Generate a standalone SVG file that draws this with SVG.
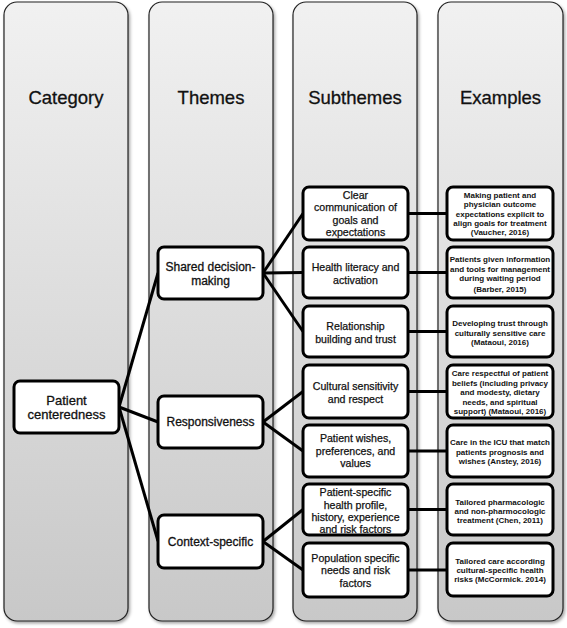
<svg xmlns="http://www.w3.org/2000/svg" width="567" height="628" viewBox="0 0 567 628">
<defs>
<linearGradient id="colg" x1="0" y1="0" x2="0" y2="1">
<stop offset="0" stop-color="#f1f1f1"/>
<stop offset="1" stop-color="#c8c8c8"/>
</linearGradient>
<filter id="sh" x="-10%" y="-10%" width="130%" height="130%">
<feDropShadow dx="1.5" dy="2" stdDeviation="1.5" flood-color="#000" flood-opacity="0.35"/>
</filter>
<style>
.col{fill:url(#colg);stroke:#222;stroke-width:1.2;filter:url(#sh)}
.hd{font-family:"Liberation Sans",Arial,sans-serif;font-size:18.5px;fill:#111;stroke:#111;stroke-width:0.3;text-anchor:middle}
.nd{fill:#fff;stroke:#000;stroke-width:3}
.t1{font-family:"Liberation Sans",Arial,sans-serif;font-size:13px;fill:#111;stroke:#111;stroke-width:0.3;text-anchor:middle}
.t2{font-family:"Liberation Sans",Arial,sans-serif;font-size:12px;fill:#111;stroke:#111;stroke-width:0.3;text-anchor:middle}
.t3{font-family:"Liberation Sans",Arial,sans-serif;font-size:10.6px;fill:#111;stroke:#111;stroke-width:0.25;text-anchor:middle}
.t4{font-family:"Liberation Sans",Arial,sans-serif;font-size:8px;font-weight:bold;fill:#111;text-anchor:middle}
.cn{stroke:#000;stroke-width:3;fill:none}
</style>
</defs>
<g id="columns">
<g id="col-category"><rect class="col" x="4" y="2" width="124" height="619" rx="13"/><text class="hd" x="66" y="104">Category</text></g>
<g id="col-themes"><rect class="col" x="149" y="2" width="124" height="619" rx="13"/><text class="hd" x="211" y="104">Themes</text></g>
<g id="col-subthemes"><rect class="col" x="293" y="2" width="124" height="619" rx="13"/><text class="hd" x="355" y="104">Subthemes</text></g>
<g id="col-examples"><rect class="col" x="438" y="2" width="125" height="619" rx="13"/><text class="hd" x="500.5" y="104">Examples</text></g>
</g>
<g id="connectors">
<line class="cn" x1="119" y1="407" x2="158" y2="273"/>
<line class="cn" x1="119" y1="407" x2="158" y2="422"/>
<line class="cn" x1="119" y1="407" x2="158" y2="541"/>
<line class="cn" x1="263" y1="273" x2="303" y2="213.5"/>
<line class="cn" x1="263" y1="273" x2="303" y2="272.5"/>
<line class="cn" x1="263" y1="273" x2="303" y2="331.5"/>
<line class="cn" x1="263" y1="422" x2="303" y2="391.5"/>
<line class="cn" x1="263" y1="422" x2="303" y2="451"/>
<line class="cn" x1="263" y1="541.5" x2="303" y2="509.5"/>
<line class="cn" x1="263" y1="541.5" x2="303" y2="570"/>
<line class="cn" x1="408" y1="213.5" x2="447" y2="213.5"/>
<line class="cn" x1="408" y1="272.5" x2="447" y2="272.5"/>
<line class="cn" x1="408" y1="331.5" x2="447" y2="331.5"/>
<line class="cn" x1="408" y1="391.5" x2="447" y2="391.5"/>
<line class="cn" x1="408" y1="451" x2="447" y2="451"/>
<line class="cn" x1="408" y1="509.5" x2="447" y2="509.5"/>
<line class="cn" x1="408" y1="570" x2="447" y2="570"/>
</g>
<g id="patient-centeredness"><rect class="nd" x="14" y="381" width="105" height="52" rx="6"/><text class="t1" x="66.5" y="404.5">Patient</text><text class="t1" x="66.5" y="418.5">centeredness</text></g>
<g id="shared-decision-making"><rect class="nd" x="158" y="247" width="105" height="52" rx="6"/><text class="t2" x="210.5" y="271">Shared decision-</text><text class="t2" x="210.5" y="285">making</text></g>
<g id="responsiveness"><rect class="nd" x="158" y="396" width="105" height="52" rx="6"/><text class="t2" x="210.5" y="426">Responsiveness</text></g>
<g id="context-specific"><rect class="nd" x="158" y="515" width="105" height="53" rx="6"/><text class="t2" x="210.5" y="546">Context-specific</text></g>
<g id="sub-clear-communication"><rect class="nd" x="303" y="187" width="105" height="53" rx="6"/><text class="t3" x="355.5" y="198.5">Clear</text><text class="t3" x="355.5" y="211">communication of</text><text class="t3" x="355.5" y="223.5">goals and</text><text class="t3" x="355.5" y="236">expectations</text></g>
<g id="sub-health-literacy"><rect class="nd" x="303" y="247" width="105" height="51" rx="6"/><text class="t3" x="355.5" y="271">Health literacy and</text><text class="t3" x="355.5" y="283.5">activation</text></g>
<g id="sub-relationship"><rect class="nd" x="303" y="306" width="105" height="51" rx="6"/><text class="t3" x="355.5" y="330">Relationship</text><text class="t3" x="355.5" y="342.5">building and trust</text></g>
<g id="sub-cultural-sensitivity"><rect class="nd" x="303" y="365" width="105" height="53" rx="6"/><text class="t3" x="355.5" y="390">Cultural sensitivity</text><text class="t3" x="355.5" y="402.5">and respect</text></g>
<g id="sub-patient-wishes"><rect class="nd" x="303" y="425" width="105" height="52" rx="6"/><text class="t3" x="355.5" y="442.2">Patient wishes,</text><text class="t3" x="355.5" y="454.7">preferences, and</text><text class="t3" x="355.5" y="467.2">values</text></g>
<g id="sub-patient-specific"><rect class="nd" x="303" y="484" width="105" height="51" rx="6"/><text class="t3" x="355.5" y="496">Patient-specific</text><text class="t3" x="355.5" y="508.5">health profile,</text><text class="t3" x="355.5" y="521">history, experience</text><text class="t3" x="355.5" y="533">and risk factors</text></g>
<g id="sub-population-specific"><rect class="nd" x="303" y="543" width="105" height="54" rx="6"/><text class="t3" x="355.5" y="561.5">Population specific</text><text class="t3" x="355.5" y="574">needs and risk</text><text class="t3" x="355.5" y="586.5">factors</text></g>
<g id="ex-vaucher"><rect class="nd" x="447" y="187" width="106" height="53" rx="6"/><text class="t4" x="500" y="198">Making patient and</text><text class="t4" x="500" y="207.3">physician outcome</text><text class="t4" x="500" y="216.5">expectations explicit to</text><text class="t4" x="500" y="225.8">align goals for treatment</text><text class="t4" x="500" y="235">(Vaucher, 2016)</text></g>
<g id="ex-barber"><rect class="nd" x="447" y="247" width="106" height="51" rx="6"/><text class="t4" x="500" y="262">Patients given information</text><text class="t4" x="500" y="272">and tools for management</text><text class="t4" x="500" y="281">during waiting period</text><text class="t4" x="500" y="292">(Barber, 2015)</text></g>
<g id="ex-mataoui-trust"><rect class="nd" x="447" y="306" width="106" height="51" rx="6"/><text class="t4" x="500" y="326">Developing trust through</text><text class="t4" x="500" y="336">culturally sensitive care</text><text class="t4" x="500" y="345">(Mataoui, 2016)</text></g>
<g id="ex-mataoui-beliefs"><rect class="nd" x="447" y="365" width="106" height="53" rx="6"/><text class="t4" x="500" y="376">Care respectful of patient</text><text class="t4" x="500" y="386">beliefs (including privacy</text><text class="t4" x="500" y="395">and modesty, dietary</text><text class="t4" x="500" y="405">needs, and spiritual</text><text class="t4" x="500" y="414">support) (Mataoui, 2016)</text></g>
<g id="ex-anstey"><rect class="nd" x="447" y="425" width="106" height="52" rx="6"/><text class="t4" x="500" y="445">Care in the ICU that match</text><text class="t4" x="500" y="455">patients prognosis and</text><text class="t4" x="500" y="464">wishes (Anstey, 2016)</text></g>
<g id="ex-chen"><rect class="nd" x="447" y="484" width="106" height="51" rx="6"/><text class="t4" x="500" y="505">Tailored pharmacologic</text><text class="t4" x="500" y="514">and non-pharmocologic</text><text class="t4" x="500" y="523">treatment (Chen, 2011)</text></g>
<g id="ex-mccormick"><rect class="nd" x="447" y="543" width="106" height="53" rx="6"/><text class="t4" x="500" y="564">Tailored care according</text><text class="t4" x="500" y="573">cultural-specific health</text><text class="t4" x="500" y="582">risks (McCormick. 2014)</text></g>
</svg>
